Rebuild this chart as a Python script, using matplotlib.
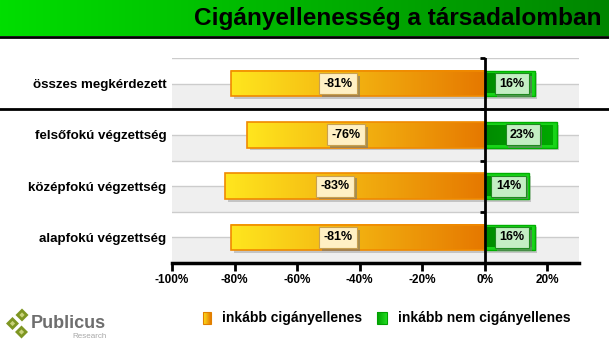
import numpy as np
import matplotlib
matplotlib.use('Agg')
import matplotlib.pyplot as plt
import matplotlib.patheffects as pe
from matplotlib.colors import LinearSegmentedColormap
from matplotlib.patches import Rectangle, Polygon
from matplotlib.transforms import blended_transform_factory

categories = ['összes megkérdezett', 'felsőfokú végzettség',
              'középfokú végzettség', 'alapfokú végzettség']
against = [-81, -76, -83, -81]
not_against = [16, 23, 14, 16]
xticks = [-100, -80, -60, -40, -20, 0, 20]
xtick_labels = ['-100%', '-80%', '-60%', '-40%', '-20%', '0%', '20%']
title = 'Cigányellenesség a társadalomban'
legend_labels = ['inkább cigányellenes', 'inkább nem cigányellenes']

plt.rcParams['font.family'] = ['Liberation Sans', 'DejaVu Sans']

W, H = 609, 345
fig = plt.figure(figsize=(W / 100, H / 100), dpi=100)

orange_cmap = LinearSegmentedColormap.from_list('o', ['#FFE61E', '#F2B010', '#E67800'])
green_cmap = LinearSegmentedColormap.from_list('g', ['#008C00', '#00A800'])
title_cmap = LinearSegmentedColormap.from_list('t', ['#00DE00', '#008600'])
grad = np.linspace(0, 1, 256).reshape(1, -1)

# background layer in pixel coordinates (title bar, legend, logo)
bg = fig.add_axes([0, 0, 1, 1], zorder=0)
bg.imshow(grad, cmap=title_cmap, extent=[0, W, 36, 0], aspect='auto')
bg.plot([0, W], [36.5, 36.5], color='black', lw=2)
bg.text(602, 18, title, ha='right', va='center', fontsize=17.6, fontweight='bold')

# legend
bg.imshow(grad, cmap=orange_cmap, extent=[203, 211, 324, 312], aspect='auto')
bg.add_patch(Rectangle((203, 312), 8, 12, fill=False, ec='#E08000', lw=0.8))
bg.text(222, 318, legend_labels[0], ha='left', va='center', fontsize=10, fontweight='bold')
bg.imshow(grad, cmap=LinearSegmentedColormap.from_list('gl', ['#00A000', '#22DD22']),
          extent=[377, 387, 324, 312], aspect='auto')
bg.add_patch(Rectangle((377, 312), 10, 12, fill=False, ec='#00A000', lw=0.8))
bg.text(398, 318, legend_labels[1], ha='left', va='center', fontsize=10, fontweight='bold')

# logo
for cx, cy in [(22, 315), (12.5, 323.5), (21.5, 332)]:
    r = 6.5
    bg.add_patch(Polygon([(cx - r, cy), (cx, cy - r), (cx + r, cy), (cx, cy + r)],
                         closed=True, fc='#7E9622', ec='none'))
    r2 = 2.6
    bg.add_patch(Polygon([(cx - r2, cy), (cx, cy - r2), (cx + r2, cy), (cx, cy + r2)],
                         closed=True, fc='#C8D27A', ec='none'))
bg.text(31, 323.5, 'Publicus', ha='left', va='center', fontsize=13,
        fontweight='bold', color='#6E6E6E')
bg.text(107, 336, 'Research', ha='right', va='center', fontsize=5.8, color='#A8A8A8')
bg.set_xlim(0, W)
bg.set_ylim(H, 0)
bg.axis('off')

# main chart
ax = fig.add_axes([172 / W, 1 - 263 / H, (578.6 - 172) / W, (263 - 58) / H], zorder=1)
ypos = np.arange(len(categories))[::-1]
bh = 0.5


def value_label(x, y, s, fc, ec):
    t = ax.text(x, y, s, ha='center', va='center', fontsize=9, fontweight='bold',
                zorder=5, bbox=dict(boxstyle='square,pad=0.36', fc=fc, ec=ec, lw=0.8))
    t.get_bbox_patch().set_path_effects(
        [pe.SimplePatchShadow(offset=(2, -2), shadow_rgbFace='#777777', alpha=0.6), pe.Normal()])


for y in ypos:
    ax.axhspan(y - 0.5, y, color='#EFEFEF', lw=0, zorder=0)
for g in np.arange(-0.5, len(categories), 0.5):
    ax.axhline(g, color='#CCCCCC', lw=1, zorder=0.5)

for y, v in zip(ypos, against):
    ax.add_patch(Rectangle((v + 0.8, y - bh / 2 - 0.05), -v, bh, fc='#9A9A9A',
                           alpha=0.5, lw=0, zorder=1))
    ax.imshow(grad, cmap=orange_cmap, extent=[v, 0, y - bh / 2, y + bh / 2],
              aspect='auto', zorder=2)
    ax.add_patch(Rectangle((v, y - bh / 2), -v, bh, fill=False, ec='#F08A00',
                           lw=1.2, zorder=3))
    value_label(v / 2 - 6.3, y, f'{v}%', '#FFF0C4', '#C8A050')

for y, v in zip(ypos, not_against):
    ax.add_patch(Rectangle((0.8, y - bh / 2 - 0.05), v, bh, fc='#9A9A9A',
                           alpha=0.5, lw=0, zorder=1))
    ax.add_patch(Rectangle((0, y - bh / 2), v, bh, fc='#18D418', ec='#00B000',
                           lw=1, zorder=2))
    ax.imshow(grad, cmap=green_cmap, extent=[0.6, v - 1.3, y - bh / 2 + 0.06, y + bh / 2 - 0.06],
              aspect='auto', zorder=2.5)
    value_label(v / 2 + 0.6, y, f'{v}%', '#C4EEC4', '#208A20')

ax.axvline(0, color='black', lw=2, zorder=6)
for g in np.arange(0.5, len(categories) + 0.5, 1.0):
    ax.plot([-1.4, 0], [g, g], color='black', lw=2, zorder=6, solid_capstyle='butt',
            clip_on=False)

sep = blended_transform_factory(fig.transFigure, ax.transData)
ax.plot([0, 1], [2.5, 2.5], color='black', lw=2, transform=sep, clip_on=False, zorder=7)

ax.set_xlim(-100, 30)
ax.set_ylim(-0.5, len(categories) - 0.5)
ax.set_xticks(xticks)
ax.set_xticklabels(xtick_labels, fontsize=8.5, fontweight='bold')
ax.set_yticks(ypos)
ax.set_yticklabels(categories, fontsize=9.6, fontweight='bold')
ax.tick_params(axis='y', length=0, pad=4)
ax.tick_params(axis='x', direction='out', length=6, width=2, pad=2)
for s in ['left', 'right', 'top']:
    ax.spines[s].set_visible(False)
ax.spines['bottom'].set_linewidth(2.5)
ax.spines['bottom'].set_zorder(8)

fig.savefig('out.png', dpi=100)
